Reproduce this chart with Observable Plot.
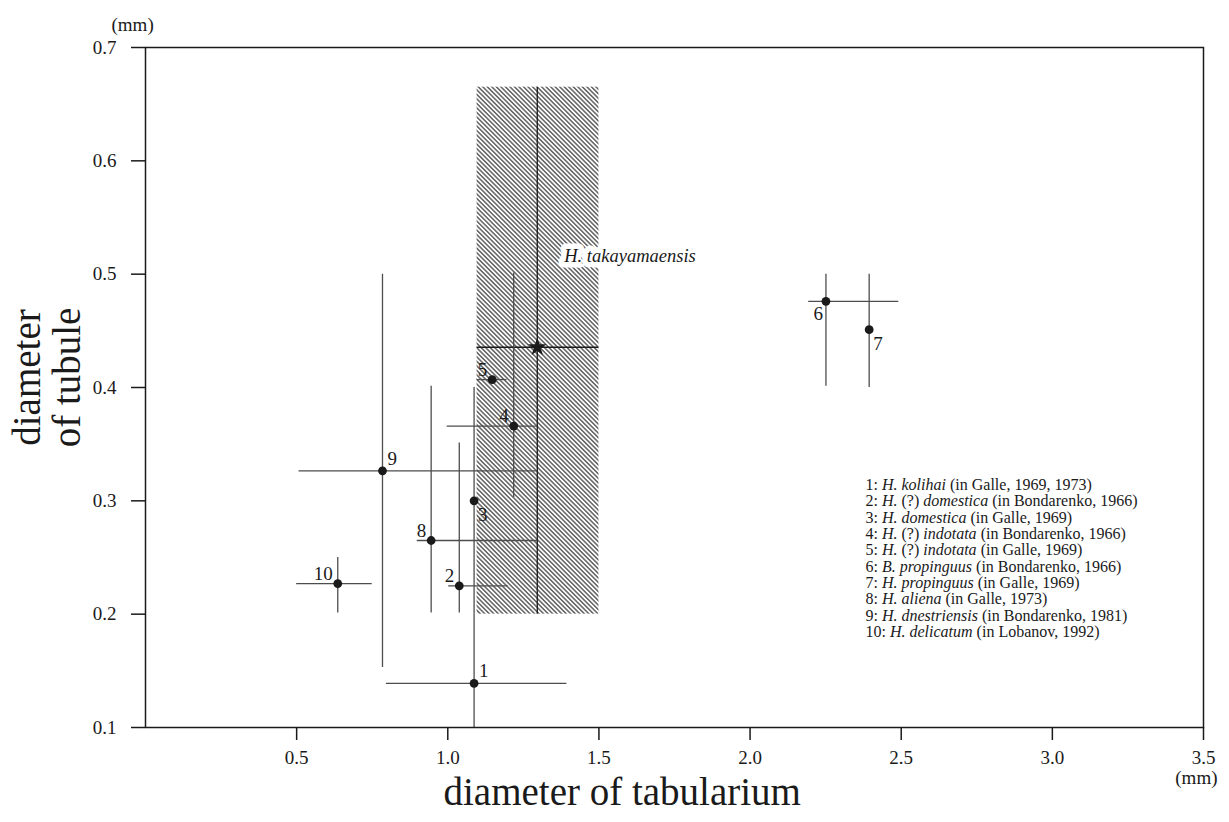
<!DOCTYPE html>
<html>
<head>
<meta charset="utf-8">
<script src="https://cdn.jsdelivr.net/npm/d3@7"></script>
<script src="https://cdn.jsdelivr.net/npm/@observablehq/plot@0.6"></script>
<style>
  body { margin: 0; background: #ffffff; }
  #chart svg { display: block; }
  #chart svg text { font-family: 'Liberation Serif', 'DejaVu Serif', serif; }
</style>
</head>
<body>
<div id="chart"></div>
<script>
// ---- Data ----
const ids        = [1, 2, 3, 4, 5, 6, 7, 8, 9, 10];
const tabularium = [1.087, 1.038, 1.087, 1.218, 1.147, 2.251, 2.394, 0.945, 0.784, 0.636];
const tubule     = [0.139, 0.225, 0.300, 0.366, 0.407, 0.476, 0.451, 0.265, 0.3265, 0.227];
const tabMin     = [0.797, 1.003, null, 0.998, 1.097, 2.194, null, 0.899, 0.508, 0.500];
const tabMax     = [1.394, 1.199, null, 1.297, 1.196, 2.492, null, 1.297, 1.297, 0.750];
const tubMin     = [0.100, 0.201, 0.200, 0.303, null, 0.401, 0.400, 0.201, 0.153, 0.201];
const tubMax     = [0.200, 0.351, 0.400, 0.501, null, 0.500, 0.500, 0.401, 0.500, 0.250];
const labelPos   = ["ne", "nw", "se", "nw", "nw", "sw", "se", "nw", "ne", "nw"];

// H. takayamaensis (star) and its range
const takaName       = ["H. takayamaensis"];
const takaTabularium = [1.296];
const takaTubule     = [0.4355];
const takaTabRange   = [1.097, 1.500];
const takaTubRange   = [0.200, 0.665];

// Legend entries
const legendGenus   = ["H.", "H.", "H.", "H.", "H.", "B.", "H.", "H.", "H.", "H."];
const legendQuery   = [false, true, false, true, true, false, false, false, false, false];
const legendSpecies = ["kolihai", "domestica", "domestica", "indotata", "indotata", "propinguus", "propinguus", "aliena", "dnestriensis", "delicatum"];
const legendSource  = ["Galle, 1969, 1973", "Bondarenko, 1966", "Galle, 1969", "Bondarenko, 1966", "Galle, 1969", "Bondarenko, 1966", "Galle, 1969", "Galle, 1973", "Bondarenko, 1981", "Lobanov, 1992"];

// Axis ticks
const xTicks = [0.5, 1.0, 1.5, 2.0, 2.5, 3.0, 3.5];
const yTicks = [0.1, 0.2, 0.3, 0.4, 0.5, 0.6, 0.7];
const xTitle = "diameter of tabularium";
const yTitle = "diameter\nof tubule";
const unit = "(mm)";

// ---- Build tables ----
const points = ids.map((id, i) => ({
  id, x: tabularium[i], y: tubule[i],
  xLo: tabMin[i], xHi: tabMax[i], yLo: tubMin[i], yHi: tubMax[i], pos: labelPos[i]
}));
const taka = takaName.map((name, i) => ({
  name, x: takaTabularium[i], y: takaTubule[i],
  xLo: takaTabRange[0], xHi: takaTabRange[1], yLo: takaTubRange[0], yHi: takaTubRange[1]
}));
const legendText = ids.map((id, i) =>
  `${id}: ${legendGenus[i]}${legendQuery[i] ? " (?)" : ""} ${legendSpecies[i]} (in ${legendSource[i]})`
).join("\n");

const FONT = "Liberation Serif";
const INK = "#1a1a1a";
const BAR = "#4d4d4d";

const labelOffsets = {
  ne: {textAnchor: "start", dx: 5, dy: -12},
  nw: {textAnchor: "end", dx: -5, dy: -10},
  se: {textAnchor: "start", dx: 4, dy: 14},
  sw: {textAnchor: "end", dx: -3, dy: 13}
};

const chart = Plot.plot({
  width: 1229,
  height: 822,
  marginLeft: 145,
  marginRight: 26,
  marginTop: 47,
  marginBottom: 95,
  style: {fontFamily: FONT, fontSize: "19px", color: INK, background: "#ffffff"},
  x: {domain: [0, 3.5]},
  y: {domain: [0.1, 0.7]},
  marks: [
    // hatched range of H. takayamaensis
    Plot.rect(taka, {x1: "xLo", x2: "xHi", y1: "yLo", y2: "yHi", fill: "url(#hatch)"}),
    Plot.ruleX(taka, {x: "x", y1: "yLo", y2: "yHi", stroke: INK, strokeWidth: 1.3}),
    Plot.ruleY(taka, {y: "y", x1: "xLo", x2: "xHi", stroke: INK, strokeWidth: 1.3}),
    // error bars
    Plot.ruleY(points.filter(d => d.xLo != null), {y: "y", x1: "xLo", x2: "xHi", stroke: BAR, strokeWidth: 1.3}),
    Plot.ruleX(points.filter(d => d.yLo != null), {x: "x", y1: "yLo", y2: "yHi", stroke: BAR, strokeWidth: 1.3}),
    // points
    Plot.dot(points, {x: "x", y: "y", r: 4.4, fill: INK, stroke: "none"}),
    Plot.dot(taka, {x: "x", y: "y", symbol: "star", r: 5.8, fill: INK, stroke: "none"}),
    // point numbers
    ...Object.entries(labelOffsets).map(([pos, o]) =>
      Plot.text(points.filter(d => d.pos === pos), {
        x: "x", y: "y", text: d => String(d.id), fontSize: 19, fontFamily: FONT, fill: INK, ...o
      })
    ),
    // species label with white box
    Plot.text(taka, {
      x: "x", y: "y", text: "name", textAnchor: "start", dx: 27, dy: -91,
      fontSize: 18.5, fontFamily: FONT, fontStyle: "italic", fill: INK, stroke: "white", strokeWidth: 11
    }),
    // axes and frame
    Plot.axisX({ticks: xTicks, tickFormat: d3.format(".1f"), tickSize: 13, tickPadding: 10, label: null, strokeWidth: 1.5, fontSize: 19, fontFamily: FONT}),
    Plot.axisY({ticks: yTicks, tickFormat: d3.format(".1f"), tickSize: 14, tickPadding: 15, label: null, strokeWidth: 1.5, fontSize: 19, fontFamily: FONT}),
    Plot.frame({stroke: INK, strokeWidth: 1.5}),
    // units
    Plot.text([unit], {text: d => d, frameAnchor: "top-left", dx: -34, dy: -30, fontSize: 19, fontFamily: FONT, fill: INK}),
    Plot.text([unit], {text: d => d, frameAnchor: "bottom-right", textAnchor: "end", dx: 14, dy: 56, fontSize: 19, fontFamily: FONT, fill: INK}),
    // axis titles
    Plot.text([xTitle], {text: d => d, frameAnchor: "bottom-left", textAnchor: "start", dx: 298, dy: 77, fontSize: 39, fontFamily: FONT, fill: INK}),
    Plot.text([yTitle], {text: d => d, frameAnchor: "left", rotate: -90, textAnchor: "middle", lineHeight: 1.03, dx: -98, dy: -10, fontSize: 39, fontFamily: FONT, fill: INK}),
    // legend
    Plot.text([legendText], {
      text: d => d, frameAnchor: "top-left", textAnchor: "start", lineAnchor: "top",
      dx: 720, dy: 431, fontSize: 16, lineHeight: 1.02, fontFamily: FONT, fill: INK, ariaLabel: "legend"
    })
  ]
});

// hatch pattern definition
const svgSel = d3.select(chart.tagName.toLowerCase() === "svg" ? chart : chart.querySelector("svg"));
const defs = svgSel.insert("defs", ":first-child");
const W = 3.2;
const pat = defs.append("pattern")
  .attr("id", "hatch")
  .attr("patternUnits", "userSpaceOnUse")
  .attr("width", W).attr("height", W)
  .attr("patternTransform", "rotate(-45)");
pat.append("rect").attr("width", W).attr("height", W).attr("fill", "white");
pat.append("line").attr("x1", W / 2).attr("y1", 0).attr("x2", W / 2).attr("y2", W)
  .attr("stroke", "#111").attr("stroke-width", 1.0);

// italic species names in the legend
svgSel.selectAll("text").each(function() {
  if (!this.textContent.startsWith("1: ")) return;
  const lines = this.querySelectorAll("tspan");
  lines.forEach((line, i) => {
    if (i >= ids.length) return;
    const t = d3.select(line);
    t.text(null);
    t.append("tspan").text(`${ids[i]}: `);
    t.append("tspan").attr("font-style", "italic").text(legendGenus[i]);
    t.append("tspan").text(legendQuery[i] ? " (?) " : " ");
    t.append("tspan").attr("font-style", "italic").text(legendSpecies[i]);
    t.append("tspan").text(` (in ${legendSource[i]})`);
  });
});

document.getElementById("chart").appendChild(chart);
</script>
</body>
</html>
